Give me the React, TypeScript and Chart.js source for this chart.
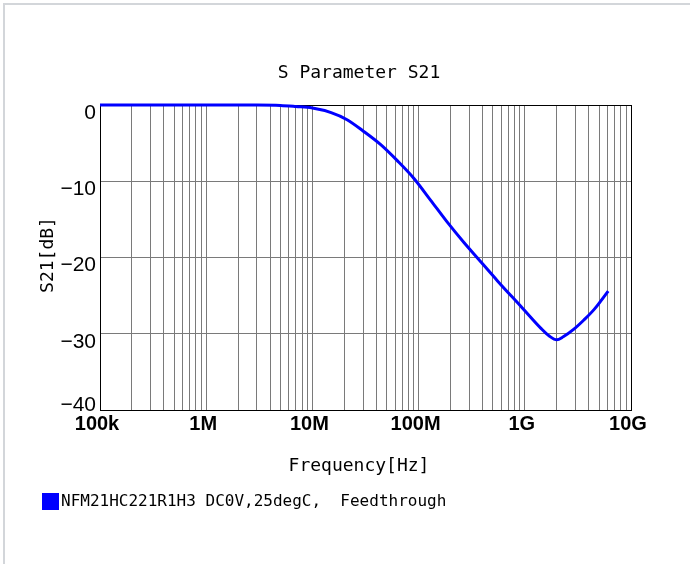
import { useEffect, useRef } from 'react';
import { Chart, registerables } from 'chart.js';

Chart.register(...registerables);

const chartTitle = 'S Parameter S21';
const xAxisTitle = 'Frequency[Hz]';
const yAxisTitle = 'S21[dB]';
const seriesLabel = 'NFM21HC221R1H3 DC0V,25degC,  Feedthrough';

const frequencies = [
  1e5, 1e6, 3e6, 5e6, 7e6, 1e7, 1.5e7, 2.1e7, 3e7, 4.4e7, 6.3e7, 9e7, 1.3e8, 1.87e8,
  2.66e8, 3.6e8, 5.56e8, 9.17e8, 1.42e9, 1.7e9, 2.0e9, 2.3e9, 2.9e9, 3.6e9, 4.5e9, 6.1e9,
];
const s21Values = [
  0, 0, 0, -0.05, -0.2, -0.4, -1.0, -1.9, -3.4, -5.2, -7.3, -9.6, -12.5, -15.4,
  -18.0, -20.1, -23.1, -26.4, -29.3, -30.3, -30.8, -30.4, -29.4, -28.2, -26.8, -24.4,
];

const decadeValues = [1e5, 1e6, 1e7, 1e8, 1e9, 1e10];
const decadeLabels = ['100k', '1M', '10M', '100M', '1G', '10G'];
const yMin = -40;
const yMax = 0;
const yStep = 10;

const monoFont = '"DejaVu Sans Mono", "Liberation Mono", monospace';
const tickFont = '"Liberation Sans", Arial, sans-serif';

const textPlugin = {
  id: 'customTexts',
  afterDraw(chart: any) {
    const ctx = chart.ctx;
    ctx.save();
    ctx.fillStyle = '#000';
    ctx.textBaseline = 'middle';
    ctx.textAlign = 'center';
    ctx.font = `18px ${monoFont}`;
    ctx.fillText(chartTitle, 359, 73);
    ctx.fillText(xAxisTitle, 359, 466);
    ctx.save();
    ctx.translate(48, 255);
    ctx.rotate(-Math.PI / 2);
    ctx.fillText(yAxisTitle, 0, 0);
    ctx.restore();
    const ds = chart.data.datasets[0];
    ctx.fillStyle = ds.borderColor;
    ctx.fillRect(42, 493, 17, 17);
    ctx.fillStyle = '#000';
    ctx.textAlign = 'left';
    ctx.font = `16px ${monoFont}`;
    ctx.fillText(ds.label, 61, 502);
    ctx.restore();
  },
};

export default function App() {
  const canvasRef = useRef<HTMLCanvasElement>(null);

  useEffect(() => {
    const canvas = canvasRef.current;
    if (!canvas) return;
    const chart = new Chart(canvas, {
      type: 'line',
      data: {
        datasets: [
          {
            label: seriesLabel,
            data: frequencies.map((f, i) => ({ x: f, y: s21Values[i] })),
            borderColor: '#0000ff',
            backgroundColor: '#0000ff',
            borderWidth: 3,
            pointRadius: 0,
            cubicInterpolationMode: 'monotone',
            clip: 4,
          },
        ],
      },
      plugins: [textPlugin],
      options: {
        animation: false,
        responsive: false,
        devicePixelRatio: 1,
        layout: { padding: { left: 0, right: 59, top: 105, bottom: 0 } },
        plugins: {
          legend: { display: false },
          title: { display: false },
          tooltip: { enabled: false },
        },
        scales: {
          x: {
            type: 'logarithmic',
            min: 1e5,
            max: 1e10,
            afterBuildTicks(scale: any) {
              const t: any[] = [];
              for (let e = 5; e < 10; e++) {
                for (let m = 1; m < 10; m++) t.push({ value: m * 10 ** e });
              }
              t.push({ value: 1e10 });
              scale.ticks = t;
            },
            afterFit(scale: any) {
              scale.height = 154;
            },
            ticks: {
              autoSkip: false,
              maxRotation: 0,
              padding: 2,
              labelOffset: -3,
              color: '#000',
              font: { family: tickFont, size: 20, weight: 'bold' },
              callback: (v: any) => {
                const i = decadeValues.indexOf(Number(v));
                return i >= 0 ? decadeLabels[i] : '';
              },
            },
            grid: {
              drawTicks: false,
              lineWidth: 1,
              color: (c: any) => (c.tick && c.tick.value >= 1e10 ? '#000' : '#7a7a7a'),
            },
            border: { display: true, color: '#000', width: 1 },
          },
          y: {
            min: yMin,
            max: yMax,
            afterFit(scale: any) {
              scale.width = 100;
            },
            ticks: {
              stepSize: yStep,
              padding: 4,
              labelOffset: 8,
              color: '#000',
              font: { family: tickFont, size: 21 },
              callback: (v: any) => {
                const s = String(v).replace('-', '\u2212');
                return Number(v) === yMin ? [s, ''] : s;
              },
            },
            grid: {
              drawTicks: false,
              lineWidth: 1,
              color: (c: any) => (c.tick && c.tick.value === yMax ? '#000' : '#7a7a7a'),
            },
            border: { display: true, color: '#000', width: 1 },
          },
        },
      },
    } as any);
    return () => chart.destroy();
  }, []);

  return (
    <div style={{ position: 'absolute', left: 0, top: 0, width: 690, height: 564, background: '#fff' }}>
      <div
        style={{
          position: 'absolute',
          left: 3,
          top: 3,
          right: 0,
          bottom: 0,
          borderTop: '2px solid #d3d6da',
          borderLeft: '2px solid #d3d6da',
        }}
      />
      <canvas ref={canvasRef} width={690} height={564} style={{ position: 'absolute', left: 0, top: 0 }} />
    </div>
  );
}
